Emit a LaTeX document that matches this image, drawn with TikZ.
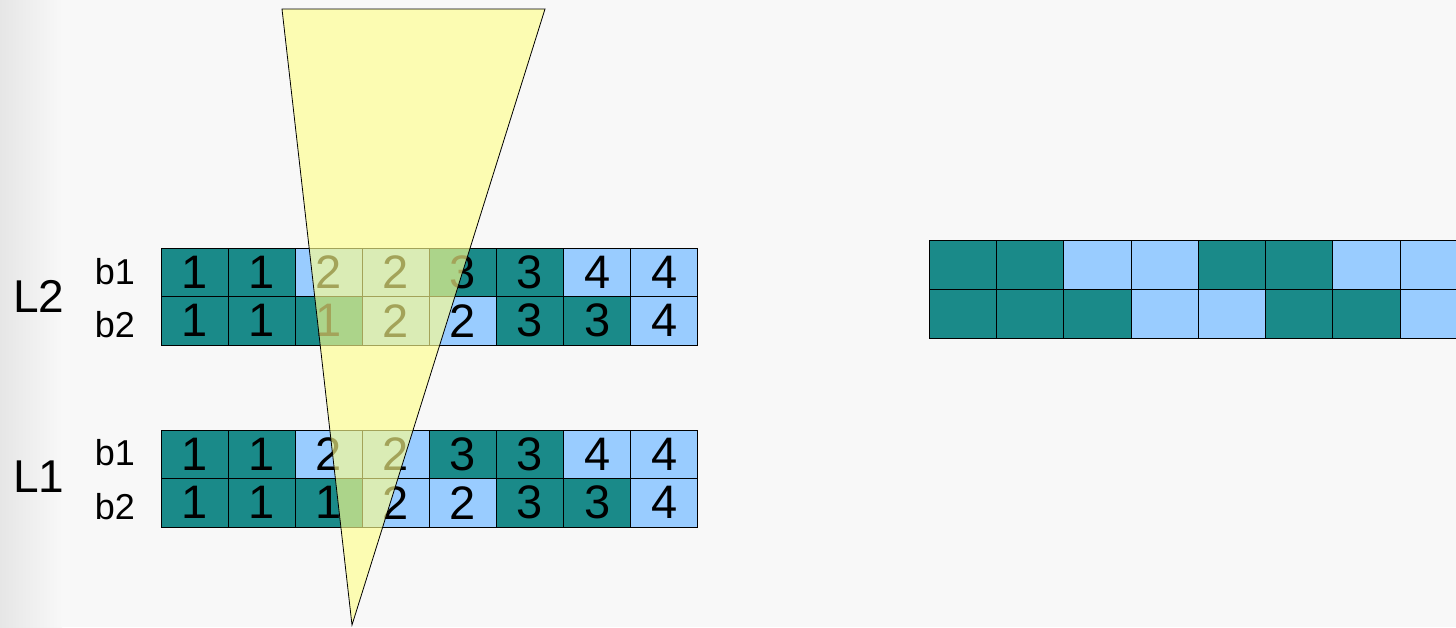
\documentclass[tikz,border=0pt]{standalone}
\usepackage{fontspec}
\setmainfont{Liberation Sans}
\definecolor{cT}{HTML}{1A8A89}
\definecolor{cB}{HTML}{99CCFF}
\definecolor{triY}{HTML}{FFFF8C}
\definecolor{bgc}{HTML}{F8F8F8}
\definecolor{bgl}{HTML}{E6E6E6}
\begin{document}
\begin{tikzpicture}[x=1pt,y=-1pt,
  cell/.style={draw=black, line width=0.8pt, minimum width=67.1pt, minimum height=48.5pt,
    inner sep=0pt, outer sep=0pt, anchor=north west, font=\fontsize{47}{47}\selectfont},
  rcell/.style={cell, minimum width=67.3pt, minimum height=49pt},
  biglbl/.style={inner sep=0pt, font=\fontsize{46}{46}\selectfont},
  smalllbl/.style={inner sep=0pt, font=\fontsize{36}{36}\selectfont},
  tri/.style={draw=black, line width=0.8pt, fill=triY, fill opacity=0.64, line join=miter}]
\useasboundingbox (0,0) rectangle (1456,627);
\clip (0,0) rectangle (1456,627);
% background
\fill[bgc] (0,0) rectangle (1456,627);
\shade[left color=bgl, right color=bgc] (0,0) rectangle (62,627);
% L2 grid
\foreach \c/\n [count=\i from 0] in {cT/1,cT/1,cB/2,cB/2,cT/3,cT/3,cB/4,cB/4}
  \node[cell, fill=\c] (L2a\i) at ({161+67.1*\i},248) {\n};
\foreach \c/\n [count=\i from 0] in {cT/1,cT/1,cT/1,cB/2,cB/2,cT/3,cT/3,cB/4}
  \node[cell, fill=\c] (L2b\i) at ({161+67.1*\i},296.5) {\n};
% L1 grid
\foreach \c/\n [count=\i from 0] in {cT/1,cT/1,cB/2,cB/2,cT/3,cT/3,cB/4,cB/4}
  \node[cell, fill=\c] (L1a\i) at ({161+67.1*\i},430) {\n};
\foreach \c/\n [count=\i from 0] in {cT/1,cT/1,cT/1,cB/2,cB/2,cT/3,cT/3,cB/4}
  \node[cell, fill=\c] (L1b\i) at ({161+67.1*\i},478.5) {\n};
% right grid
\foreach \c [count=\i from 0] in {cT,cT,cB,cB,cT,cT,cB,cB}
  \node[rcell, fill=\c] (Ra\i) at ({929+67.3*\i},240) {};
\foreach \c [count=\i from 0] in {cT,cT,cT,cB,cB,cT,cT,cB}
  \node[rcell, fill=\c] (Rb\i) at ({929+67.3*\i},289) {};
% labels
\node[biglbl] (lL2) at (39,296) {L2};
\node[smalllbl] (lL2b1) at (115,272) {b1};
\node[smalllbl] (lL2b2) at (115,325) {b2};
\node[biglbl] (lL1) at (39,477) {L1};
\node[smalllbl] (lL1b1) at (115,453) {b1};
\node[smalllbl] (lL1b2) at (115,507) {b2};
% beam triangle
\coordinate (tA) at (282,9);
\coordinate (tB) at (545,9);
\coordinate (tC) at (352,625);
\draw[tri] (tA) -- (tB) -- (tC) -- cycle;
\end{tikzpicture}
\end{document}
